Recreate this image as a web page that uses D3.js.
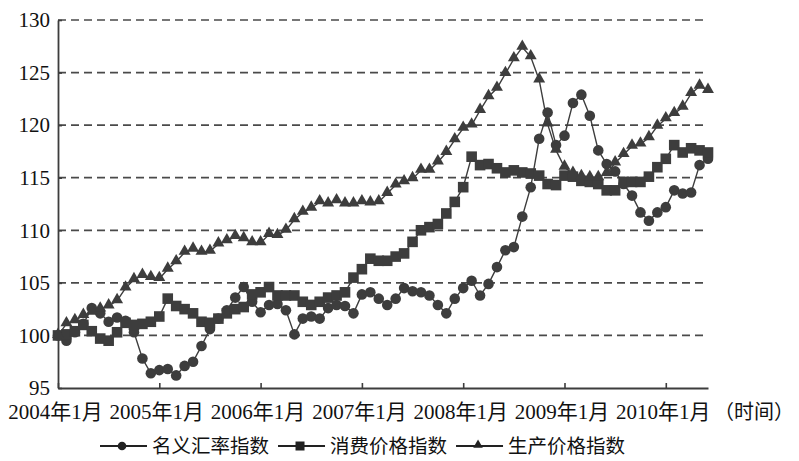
<!DOCTYPE html>
<html><head><meta charset="utf-8">
<script src="https://cdn.jsdelivr.net/npm/d3@7"></script>
<style>body{margin:0;background:#fff;} svg{display:block;}</style>
</head><body><svg id="c" width="799" height="461"></svg>
<script>
// ---- data ----
const xTickLabels = ["2004年1月","2005年1月","2006年1月","2007年1月","2008年1月","2009年1月","2010年1月"];
const xTickIndex = [0,12,24,36,48,60,72];
const xAxisTitle = "（时间）";
const yTicks = [95,100,105,110,115,120,125,130];
const gridValues = [100,105,110,115,120,125,130];
const seriesNames = ["名义汇率指数","消费价格指数","生产价格指数"];
// monthly, 2004-01 .. 2010-06
const exchangeRate = [100.0,99.5,100.3,101.1,102.6,102.1,101.3,101.7,101.4,100.3,97.8,96.4,
  96.7,96.8,96.2,97.1,97.5,99.0,100.6,101.6,102.4,103.6,104.6,103.2,
  102.2,102.9,103.0,102.4,100.1,101.6,101.8,101.6,102.6,102.9,102.8,102.1,
  103.9,104.1,103.5,102.9,103.5,104.5,104.2,104.1,103.8,102.9,102.1,103.5,
  104.5,105.2,103.8,104.9,106.5,108.1,108.4,111.3,114.1,118.7,121.2,118.1,
  119.0,122.1,122.9,120.9,117.6,116.3,115.6,114.4,113.3,111.7,110.9,111.7,
  112.2,113.8,113.5,113.6,116.2,116.8];
const cpi = [100.0,100.1,100.4,101.0,100.4,99.7,99.5,100.3,101.2,101.0,101.1,101.3,
  101.8,103.5,102.8,102.5,102.1,101.3,101.2,101.6,102.1,102.5,102.7,103.9,
  104.1,104.6,103.8,103.8,103.8,103.2,102.9,103.2,103.6,103.8,104.1,105.5,
  106.3,107.3,107.1,107.1,107.5,107.8,108.9,110.0,110.3,110.6,111.6,112.7,
  114.1,117.0,116.2,116.3,115.9,115.5,115.7,115.5,115.4,115.2,114.4,114.3,
  115.2,115.1,114.7,114.6,114.4,113.8,113.8,114.6,114.6,114.6,115.1,116.0,
  116.8,118.1,117.4,117.8,117.6,117.4];
const ppi = [100.0,101.1,101.4,101.9,102.2,102.5,102.8,103.3,104.5,105.3,105.7,105.5,
  105.4,106.3,107.0,107.9,108.2,107.9,108.0,108.7,109.0,109.4,109.2,108.8,
  108.8,109.6,109.5,110.0,111.0,111.7,112.1,112.7,112.5,112.8,112.5,112.5,
  112.7,112.6,112.7,113.5,114.3,114.6,114.9,115.7,115.7,116.5,117.4,118.6,
  119.7,120.0,121.4,122.7,123.5,124.9,126.3,127.4,126.5,124.3,120.1,117.6,
  116.0,115.4,115.1,115.0,115.0,115.4,116.4,117.2,118.0,118.2,118.8,119.9,
  120.6,121.1,121.7,123.0,123.7,123.3];

// ---- chart ----
const ink = "#3d3d3d";
const svg = d3.select("#c");
const x = d3.scaleLinear().domain([0, exchangeRate.length - 1]).range([58, 708]);
const y = d3.scaleLinear().domain([95, 130]).range([388, 20]);

// grid
svg.append("g").selectAll("line").data(gridValues).join("line")
  .attr("x1", x(0)).attr("x2", x(exchangeRate.length - 1))
  .attr("y1", d => y(d)).attr("y2", d => y(d))
  .attr("stroke", "#4a4a4a").attr("stroke-width", 1.7)
  .attr("stroke-dasharray", "8,5");

// axes
const serif = "'Liberation Serif','Times New Roman','Noto Sans CJK SC',serif";
const yAxis = svg.append("g").attr("transform", `translate(${x(0)},0)`)
  .call(d3.axisLeft(y).tickValues(yTicks).tickSize(-4).tickSizeOuter(0).tickPadding(8).tickFormat(d3.format("d")));
const xAxis = svg.append("g").attr("transform", `translate(0,${y(95)})`)
  .call(d3.axisBottom(x).tickValues(xTickIndex).tickSize(-5).tickSizeOuter(0).tickPadding(16)
    .tickFormat((d, i) => xTickLabels[i]));
[yAxis, xAxis].forEach(g => {
  g.select(".domain").attr("stroke", ink).attr("stroke-width", 1.8);
  g.selectAll(".tick line").attr("stroke", ink).attr("stroke-width", 1.6);
  g.selectAll("text").attr("fill", "#111").style("font-family", serif).style("font-size", "21px");
});
xAxis.selectAll(".tick text").attr("dx", "-3");
svg.append("text").attr("x", 714).attr("y", 419).text(xAxisTitle)
  .attr("fill", "#111").style("font-family", "'Noto Sans CJK SC',sans-serif").style("font-size", "20px");

// series
const line = d3.line().x((d, i) => x(i)).y(d => y(d));
const tri = d3.symbol().type(d3.symbolTriangle).size(62);
function drawSeries(data, kind) {
  const g = svg.append("g");
  g.append("path").datum(data).attr("d", line).attr("fill", "none")
    .attr("stroke", ink).attr("stroke-width", 1.4);
  if (kind === "circle") {
    g.selectAll("circle").data(data).join("circle")
      .attr("cx", (d, i) => x(i)).attr("cy", d => y(d)).attr("r", 5.3).attr("fill", ink);
  } else if (kind === "square") {
    g.selectAll("rect").data(data).join("rect")
      .attr("x", (d, i) => x(i) - 5.3).attr("y", d => y(d) - 5.3)
      .attr("width", 10.6).attr("height", 10.6).attr("fill", ink);
  } else {
    g.selectAll("path.m").data(data).join("path").attr("class", "m")
      .attr("d", tri).attr("transform", (d, i) => `translate(${x(i)},${y(d) - 1})`).attr("fill", ink);
  }
}
drawSeries(exchangeRate, "circle");
drawSeries(cpi, "square");
drawSeries(ppi, "triangle");

// legend
const kinds = ["circle", "square", "triangle"];
const legY = 446;
let lx = 100;
const leg = svg.append("g");
seriesNames.forEach((name, k) => {
  leg.append("line").attr("x1", lx).attr("x2", lx + 47).attr("y1", legY).attr("y2", legY)
    .attr("stroke", "#222").attr("stroke-width", 1.8);
  const cx = lx + 22;
  if (kinds[k] === "circle") leg.append("circle").attr("cx", cx).attr("cy", legY).attr("r", 4.3).attr("fill", "#222");
  else if (kinds[k] === "square") leg.append("rect").attr("x", cx - 4.5).attr("y", legY - 4.5).attr("width", 9).attr("height", 9).attr("fill", "#222");
  else leg.append("path").attr("d", d3.symbol().type(d3.symbolTriangle).size(40)).attr("transform", `translate(${cx},${legY - 1})`).attr("fill", "#222");
  const t = leg.append("text").attr("x", lx + 52).attr("y", legY + 7)
    .text(name).attr("fill", "#111").style("font-family", "'Noto Sans CJK SC',sans-serif").style("font-size", "19.5px");
  lx += 52 + t.node().getComputedTextLength() + 9;
});
</script></body></html>
